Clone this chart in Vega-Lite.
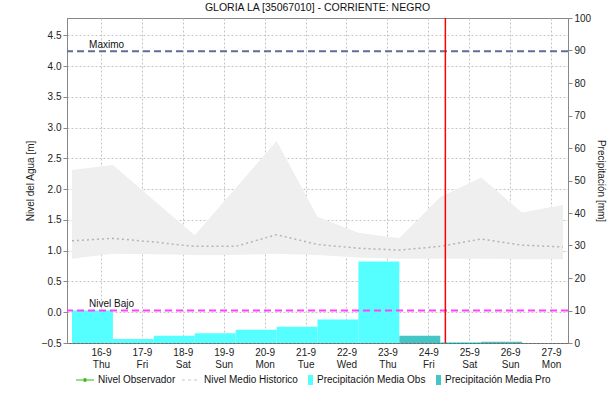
{
  "$schema": "https://vega.github.io/schema/vega-lite/v6.json",
  "width": 501,
  "height": 325,
  "autosize": "none",
  "padding": {"left": 67, "top": 18, "right": 42, "bottom": 57},
  "title": {"text": "GLORIA LA [35067010] - CORRIENTE: NEGRO", "font": "Liberation Sans", "fontSize": 10.5, "fontWeight": "normal", "color": "#111", "anchor": "middle", "offset": 0},
  "datasets": {
    "hist": [
      {"t": "2021-09-15T07:00", "min": 0.87, "max": 2.31, "media": 1.16},
      {"t": "2021-09-16T07:00", "min": 0.95, "max": 2.39, "media": 1.20},
      {"t": "2021-09-17T07:00", "min": 0.94, "max": 1.82, "media": 1.14},
      {"t": "2021-09-18T07:00", "min": 0.93, "max": 1.25, "media": 1.07},
      {"t": "2021-09-19T07:00", "min": 0.93, "max": 2.02, "media": 1.07},
      {"t": "2021-09-20T07:00", "min": 0.95, "max": 2.78, "media": 1.26},
      {"t": "2021-09-21T07:00", "min": 0.93, "max": 1.55, "media": 1.10},
      {"t": "2021-09-22T07:00", "min": 0.89, "max": 1.29, "media": 1.04},
      {"t": "2021-09-23T07:00", "min": 0.87, "max": 1.20, "media": 1.01},
      {"t": "2021-09-24T07:00", "min": 0.87, "max": 1.87, "media": 1.07},
      {"t": "2021-09-25T07:00", "min": 0.87, "max": 2.19, "media": 1.19},
      {"t": "2021-09-26T07:00", "min": 0.86, "max": 1.62, "media": 1.09},
      {"t": "2021-09-27T07:00", "min": 0.86, "max": 1.74, "media": 1.06}
    ],
    "precip": [
      {"t0": "2021-09-15T07:00", "t1": "2021-09-16T07:00", "mm": 10.0, "tipo": "Obs"},
      {"t0": "2021-09-16T07:00", "t1": "2021-09-17T07:00", "mm": 1.2, "tipo": "Obs"},
      {"t0": "2021-09-17T07:00", "t1": "2021-09-18T07:00", "mm": 2.2, "tipo": "Obs"},
      {"t0": "2021-09-18T07:00", "t1": "2021-09-19T07:00", "mm": 3.0, "tipo": "Obs"},
      {"t0": "2021-09-19T07:00", "t1": "2021-09-20T07:00", "mm": 4.1, "tipo": "Obs"},
      {"t0": "2021-09-20T07:00", "t1": "2021-09-21T07:00", "mm": 5.0, "tipo": "Obs"},
      {"t0": "2021-09-21T07:00", "t1": "2021-09-22T07:00", "mm": 7.2, "tipo": "Obs"},
      {"t0": "2021-09-22T07:00", "t1": "2021-09-23T07:00", "mm": 25.1, "tipo": "Obs"},
      {"t0": "2021-09-23T07:00", "t1": "2021-09-24T07:00", "mm": 2.2, "tipo": "Pro"},
      {"t0": "2021-09-24T07:00", "t1": "2021-09-25T07:00", "mm": 0.3, "tipo": "Obs"},
      {"t0": "2021-09-25T07:00", "t1": "2021-09-26T07:00", "mm": 0.4, "tipo": "Pro"}
    ],
    "niveles": [
      {"nombre": "Maximo", "valor": 4.24},
      {"nombre": "Nivel Bajo", "valor": 0.03}
    ],
    "ahora": [{"t": "2021-09-24T10:00"}],
    "leyenda": [
      {"serie": "Nivel Observador"},
      {"serie": "Nivel Medio Historico"},
      {"serie": "Precipitación Media Obs"},
      {"serie": "Precipitación Media Pro"}
    ]
  },
  "layer": [
    {
      "layer": [
        {
          "data": {"name": "hist"},
          "mark": {"type": "area", "color": "#efefef"},
          "encoding": {
            "x": {"field": "t", "type": "temporal", "title": null,
              "scale": {"domain": [{"year": 2021, "month": 9, "date": 15, "hours": 7}, {"year": 2021, "month": 9, "date": 27, "hours": 7}]},
              "axis": {"orient": "bottom", "title": null, "grid": true, "ticks": false, "labelPadding": 4, "labelLineHeight": 12, "labelBaseline": "top",
                "domain": true, "domainDash": [1, 1], "domainColor": "#444",
                "values": [
                  {"year": 2021, "month": 9, "date": 16}, {"year": 2021, "month": 9, "date": 17}, {"year": 2021, "month": 9, "date": 18},
                  {"year": 2021, "month": 9, "date": 19}, {"year": 2021, "month": 9, "date": 20}, {"year": 2021, "month": 9, "date": 21},
                  {"year": 2021, "month": 9, "date": 22}, {"year": 2021, "month": 9, "date": 23}, {"year": 2021, "month": 9, "date": 24},
                  {"year": 2021, "month": 9, "date": 25}, {"year": 2021, "month": 9, "date": 26}, {"year": 2021, "month": 9, "date": 27}
                ],
                "labelExpr": "[timeFormat(datum.value, '%-d-%-m'), timeFormat(datum.value, '%a')]"}},
            "y": {"field": "min", "type": "quantitative", "scale": {"domain": [-0.5, 4.78], "nice": false, "zero": false},
              "axis": {"orient": "left", "title": "Nivel del Agua [m]", "tickCount": 11, "format": ".1f", "tickSize": 4, "labelPadding": 2, "titlePadding": 6, "grid": true, "labelOverlap": false, "labelSeparation": 0, "labelBound": false, "labelFlush": false}},
            "y2": {"field": "max"}
          }
        },
        {
          "data": {"name": "hist"},
          "mark": {"type": "line", "color": "#b4b4b4", "strokeDash": [2, 3], "strokeWidth": 1.5},
          "encoding": {
            "x": {"field": "t", "type": "temporal", "title": null},
            "y": {"field": "media", "type": "quantitative"}
          }
        }
      ]
    },
    {
      "layer": [
        {
          "data": {"name": "precip"},
          "mark": {"type": "bar", "orient": "vertical"},
          "encoding": {
            "x": {"field": "t0", "type": "temporal", "title": null},
            "x2": {"field": "t1"},
            "y": {"field": "mm", "type": "quantitative", "scale": {"domain": [0, 100], "nice": false},
              "axis": {"orient": "right", "title": "Precipitación [mm]", "values": [0, 10, 20, 30, 40, 50, 60, 70, 80, 90, 100], "tickSize": 4, "labelPadding": 2, "titlePadding": 5, "grid": false, "labelOverlap": false, "labelFlush": false}},
            "y2": {"datum": 0},
            "color": {"condition": {"test": "datum.tipo === 'Pro'", "value": "#44c6c6"}, "value": "#55ffff"}
          }
        }
      ]
    },
    {
      "layer": [
        {
          "data": {"name": "niveles"},
          "mark": {"type": "rule", "strokeDash": [7, 4], "strokeWidth": 2},
          "encoding": {
            "y": {"field": "valor", "type": "quantitative", "scale": {"domain": [-0.5, 4.78], "nice": false, "zero": false}, "axis": null},
            "color": {"condition": {"test": "datum.nombre === 'Maximo'", "value": "#5d6e98"}, "value": "#ff40ff"}
          }
        },
        {
          "data": {"name": "niveles"},
          "mark": {"type": "text", "align": "left", "baseline": "bottom", "dy": -1, "fontSize": 10, "font": "Liberation Sans", "color": "#111"},
          "encoding": {
            "x": {"datum": {"year": 2021, "month": 9, "date": 15, "hours": 17}, "type": "temporal"},
            "y": {"field": "valor", "type": "quantitative", "axis": null},
            "text": {"field": "nombre"}
          }
        },
        {
          "data": {"name": "ahora"},
          "mark": {"type": "rule", "color": "#ff0000", "strokeWidth": 1.5},
          "encoding": {
            "x": {"field": "t", "type": "temporal", "title": null}
          }
        },
        {
          "data": {"name": "leyenda"},
          "mark": {"type": "point", "filled": true, "opacity": 0},
          "encoding": {
            "color": {"field": "serie", "type": "nominal",
              "scale": {"domain": ["Nivel Observador", "Nivel Medio Historico", "Precipitación Media Obs", "Precipitación Media Pro"], "range": ["#33bb11", "#c8c8c8", "#55ffff", "#44c6c6"]},
              "legend": {"title": null, "orient": "none", "legendX": 18, "legendY": 357, "direction": "horizontal", "symbolSize": 64, "symbolOpacity": 1, "symbolStrokeWidth": 0, "labelOffset": 3, "columnPadding": 6, "labelFontSize": 10, "labelFont": "Liberation Sans", "labelColor": "#111", "padding": 0}},
            "shape": {"field": "serie", "type": "nominal",
              "scale": {"domain": ["Nivel Observador", "Nivel Medio Historico", "Precipitación Media Obs", "Precipitación Media Pro"],
                "range": ["M-3.5,-0.15H1V0.15H-3.5Z M-1.6,-0.45H-0.9V0.45H-1.6Z", "M-3.5,-0.15H-2.75V0.15H-3.5Z M-2,-0.15H-1.25V0.15H-2Z M-0.5,-0.15H0.25V0.15H-0.5Z", "M-0.25,-1.25H1V1.25H-0.25Z", "M-0.25,-1.25H1V1.25H-0.25Z"]},
              "legend": {"title": null, "orient": "none", "legendX": 18, "legendY": 357, "direction": "horizontal", "symbolSize": 64, "symbolOpacity": 1, "symbolStrokeWidth": 0, "labelOffset": 3, "columnPadding": 6, "labelFontSize": 10, "labelFont": "Liberation Sans", "labelColor": "#111", "padding": 0}}
          }
        }
      ]
    }
  ],
  "resolve": {"scale": {"y": "independent"}},
  "config": {
    "view": {"stroke": "#888"},
    "font": "Liberation Sans",
    "axis": {"labelFont": "Liberation Sans", "labelFontSize": 10, "labelColor": "#222", "titleFont": "Liberation Sans", "titleFontSize": 10, "titleFontWeight": "normal", "titleColor": "#222", "domainColor": "#888", "tickColor": "#888", "gridColor": "#c4c4c4", "gridDash": [2, 2], "gridWidth": 1, "labelOverlap": false},
    "axisLeft": {"labelOverlap": false}
  }
}
